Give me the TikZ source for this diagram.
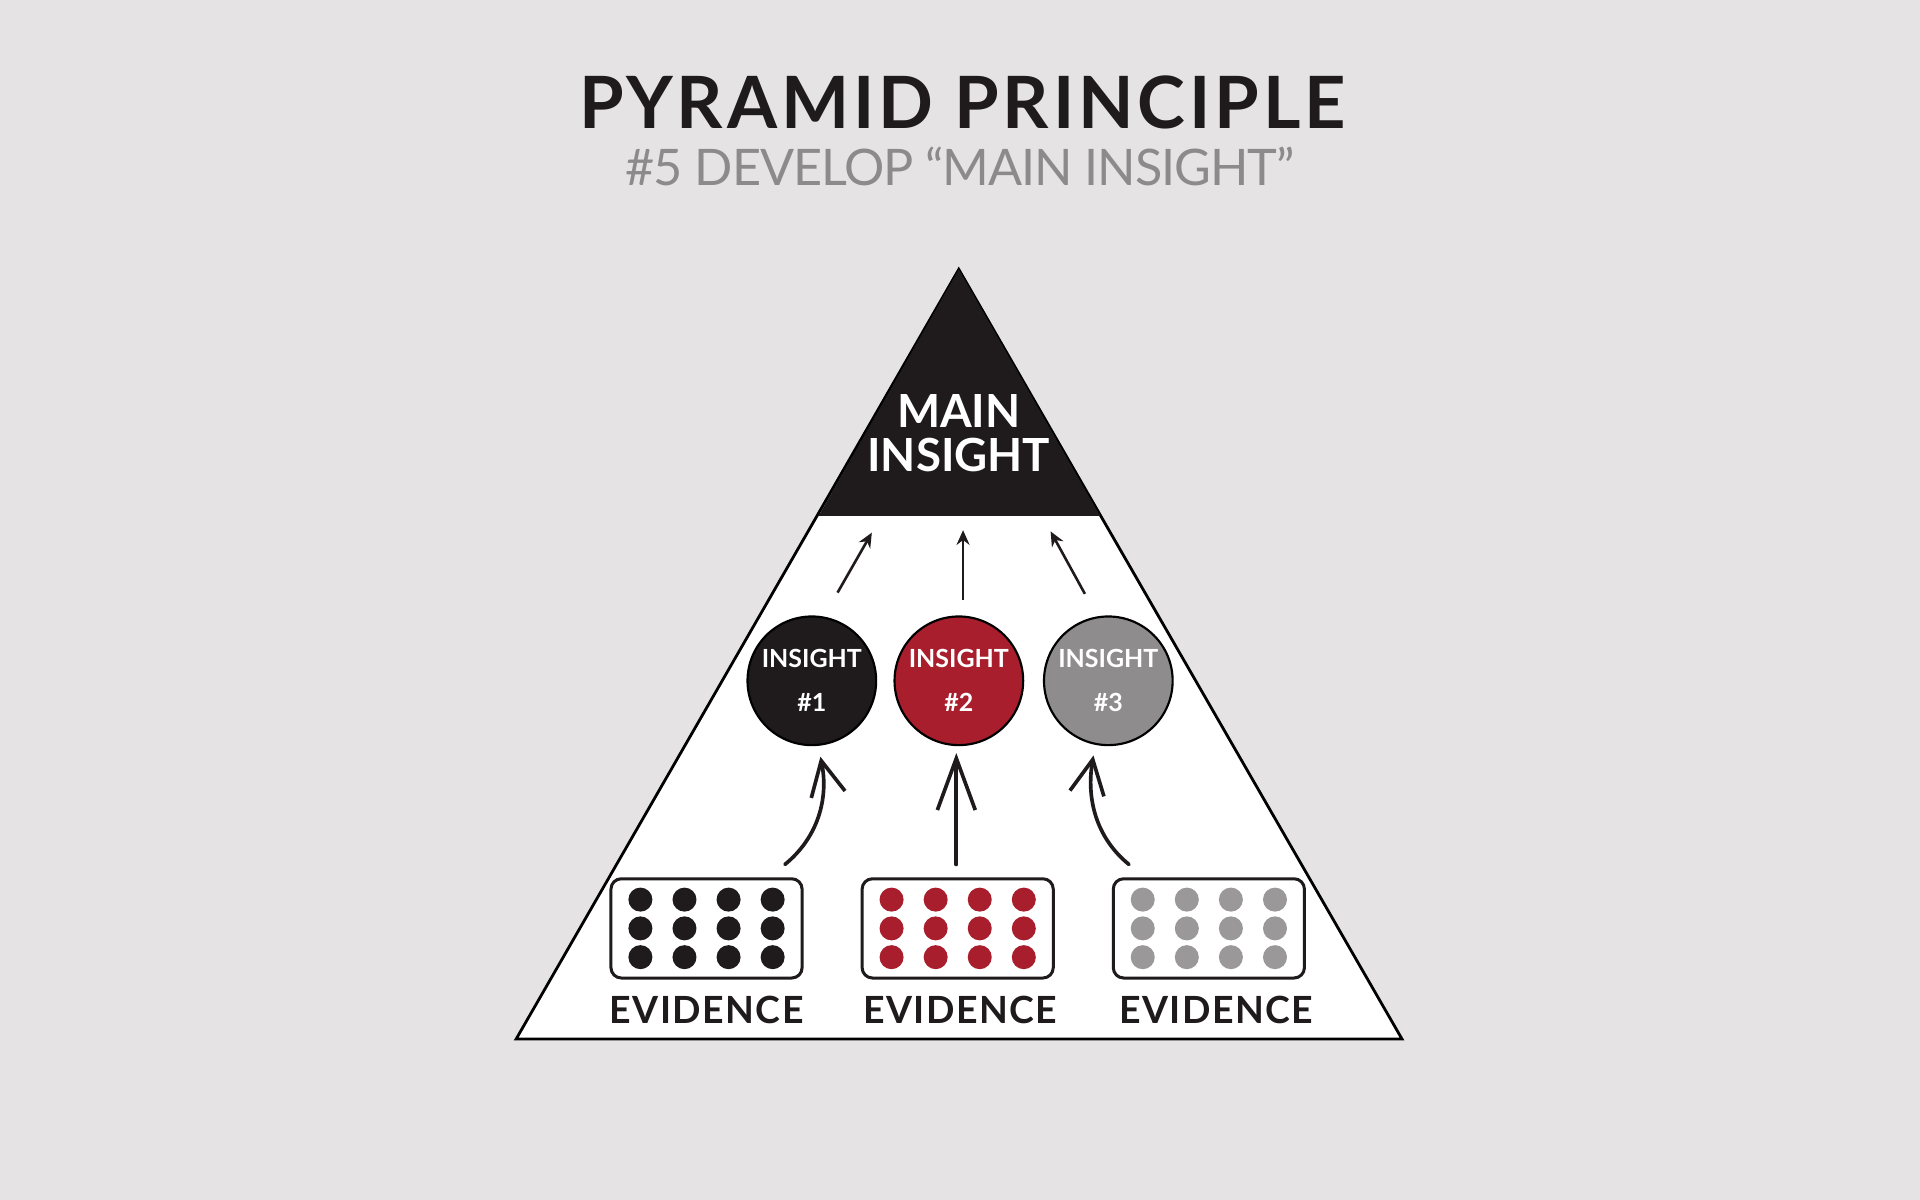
\documentclass[tikz,border=0pt]{standalone}
\usepackage{fontspec}
\setmainfont{Lato}
\usetikzlibrary{arrows.meta,positioning}

\definecolor{bgcol}{HTML}{E5E3E3}
\definecolor{inkblack}{HTML}{1F1B1C}
\definecolor{insred}{HTML}{A81E2D}
\definecolor{insgray}{HTML}{8E8C8C}
\definecolor{dotgray}{HTML}{9A9898}
\definecolor{subgray}{HTML}{8C8A8A}

\begin{document}
\begin{tikzpicture}[x=0.01cm,y=-0.01cm,>={Stealth[length=3.4pt,width=3pt]},
        node distance=1.21cm, every node/.style={inner sep=0pt},
        insight/.style={circle,draw=black,line width=0.5pt,minimum size=1.05cm,
          text=white,align=center,font=\bfseries\fontsize{5.8}{10.2}\selectfont},
        evbox/.style={draw=inkblack,rounded corners=2.4pt,line width=0.7pt,
          minimum width=1.56cm,minimum height=0.81cm,fill=white},
        evlabel/.style={text=inkblack,
          font=\bfseries\fontsize{8.7}{10}\selectfont\addfontfeatures{LetterSpace=3.8}},
        handarrow/.style={-{Straight Barb[length=8pt,width=8pt]},line width=0.85pt,
          line cap=round,draw=inkblack}]

  % canvas
  \fill[bgcol] (0,0) rectangle (1568,980);
  \useasboundingbox (0,0) rectangle (1568,980);

  % title
  \node[anchor=base,text=inkblack,
    font=\bfseries\fontsize{16.75}{20}\selectfont\addfontfeatures{LetterSpace=5.3}]
    (title) at (786,104.8) {PYRAMID PRINCIPLE};
  \node[anchor=base,text=subgray,
    font=\fontsize{11.7}{14}\selectfont\addfontfeatures{LetterSpace=-2.2}]
    (subtitle) at (784,151.9) {\#5 DEVELOP “MAIN INSIGHT”};

  % pyramid
  \coordinate (apex) at (783,220);
  \coordinate (bl) at (421.5,848.6);
  \coordinate (br) at (1145,848.6);
  \coordinate (cutl) at (669,420.6);
  \coordinate (cutr) at (898,420.6);
  \draw[fill=white,line width=0.65pt,line join=miter] (apex) -- (bl) -- (br) -- cycle;
  \fill[inkblack] (apex) -- (cutl) -- (cutr) -- cycle;
  \draw[inkblack,line width=0.65pt] (cutl) -- (cutr);
  \node[text=white,align=center,font=\bfseries\fontsize{10.6}{10.25}\selectfont]
    (main) at (783,354) {MAIN\\INSIGHT};

  % insights
  \node[insight,fill=inkblack] (ins1) at (663,556) {\raisebox{-1.1pt}{INSIGHT}\\\raisebox{-1.1pt}{\#1}};
  \node[insight,fill=insred] (ins2) [right of=ins1, node distance=1.2cm] {INSIGHT\\\#2};
  \node[insight,fill=insgray] (ins3) [right of=ins2, node distance=1.22cm] {INSIGHT\\\#3};

  % evidence
  \node[evbox] (ev1) at (577,758.2) {};
  \node[evbox] (ev2) [right of=ev1, node distance=2.05cm] {};
  \node[evbox] (ev3) [right of=ev2, node distance=2.05cm] {};
  \foreach \b/\col in {ev1/inkblack, ev2/insred, ev3/dotgray}
    \foreach \dx in {-54,-18,18,54}
      \foreach \dy in {-23.5,0,23.5}
        \fill[\col] ([shift={(\dx,\dy)}]\b) circle (0.098cm);
  \node[evlabel] (lab1) [below of=ev1, node distance=0.665cm] {EVIDENCE};
  \node[evlabel] (lab2) [below of=ev2, node distance=0.665cm, xshift=0.02cm] {EVIDENCE};
  \node[evlabel] (lab3) [below of=ev3, node distance=0.665cm, xshift=0.06cm] {EVIDENCE};

  % arrows up to the main insight
  \coordinate (s1) at (684,484);  \coordinate (t1) at (712,435);
  \coordinate (s2) at (786.5,490); \coordinate (t2) at (786.5,433);
  \coordinate (s3) at (886,485);  \coordinate (t3) at (858,434);
  \foreach \i in {1,2,3}
    \draw[->,inkblack,line width=0.6pt] (s\i) -- (t\i);

  % hand drawn arrows from evidence
  \coordinate (e1) at (641,706);
  \coordinate (e2) at (781,706);
  \coordinate (e3) at (922,706);
  \draw[handarrow] (e1) .. controls (668,684) and (677,652) .. (670,618);
  \draw[handarrow,-{Straight Barb[length=12pt,width=8.8pt]}] (e2) -- (781,615);
  \draw[handarrow] (e3) .. controls (895,684) and (887,652) .. (893,617);

\end{tikzpicture}
\end{document}
